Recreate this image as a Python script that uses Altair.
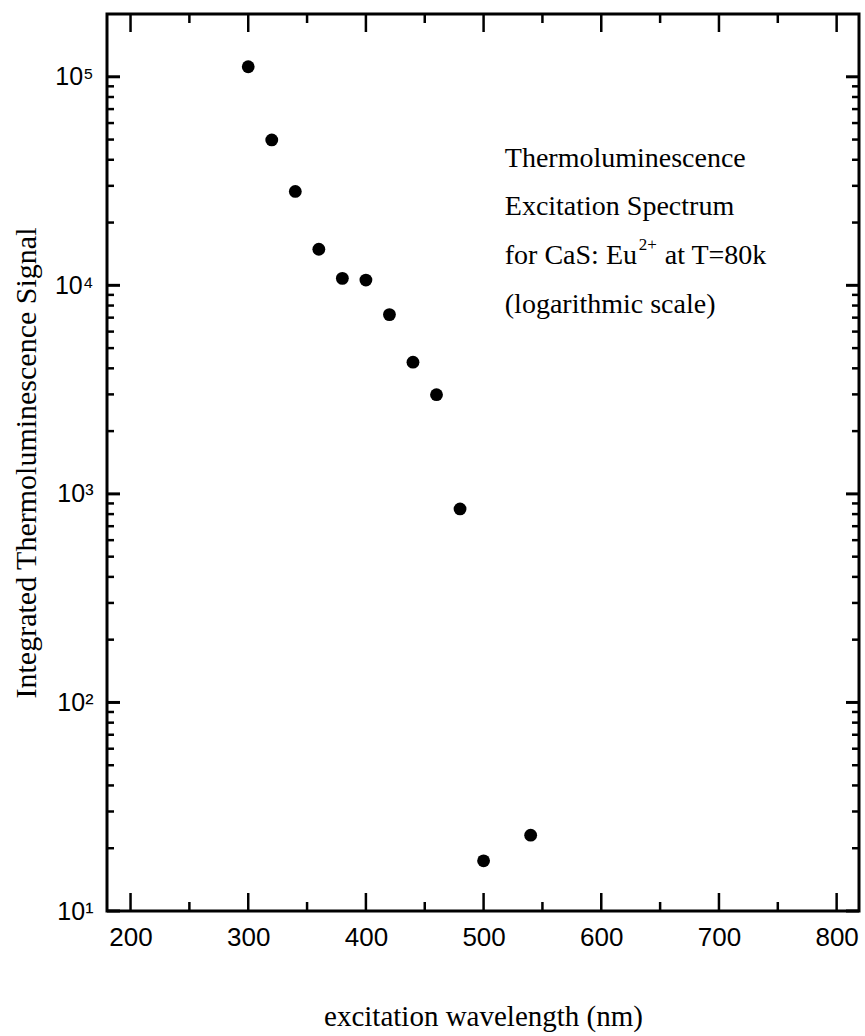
import altair as alt
import pandas as pd

# ---- data ----
wavelength = [300, 320, 340, 360, 380, 400, 420, 440, 460, 480, 500, 540]
signal = [111700, 49800, 28200, 14900, 10800, 10600, 7240, 4280, 2990, 847, 17.4, 23.1]

x_major = [200, 300, 400, 500, 600, 700, 800]
x_minor = [250, 350, 450, 550, 650, 750]
y_major = [10, 100, 1000, 10000, 100000]
y_minor = [20, 30, 40, 50, 60, 70, 80, 90,
           200, 300, 400, 500, 600, 700, 800, 900,
           2000, 3000, 4000, 5000, 6000, 7000, 8000, 9000,
           20000, 30000, 40000, 50000, 60000, 70000, 80000, 90000]

note_lines = ["Thermoluminescence", "Excitation Spectrum", "for CaS: Eu", "(logarithmic scale)"]
note_sig = [37060, 21740, 12660, 7330]
note_wl = [518, 518, 518, 518]
note_sup = "2+"
note_tail = "at T=80k"

W, H = 752, 897
X_DOM = [180, 819]
Y_DOM = [10, 200000]

SANS = "Liberation Sans Narrow, Liberation Sans, Arial, sans-serif"
SERIF = "Liberation Serif"

df = pd.DataFrame({"wl": wavelength, "sig": signal})

x_axis = alt.Axis(values=x_major, ticks=False, tickSize=0, domain=False, grid=False,
                  labelFont=SANS, labelFontSize=26, labelPadding=13,
                  labelColor="black", title="excitation wavelength (nm)",
                  titleFont=SERIF, titleFontSize=29, titleFontWeight="normal",
                  titleColor="black", titleX=W / 2, titleY=114, titleAlign="center",
                  titleBaseline="alphabetic", labelFlush=False)
y_axis = alt.Axis(values=y_major, ticks=False, tickSize=0, domain=False, grid=False,
                  labelFont=SANS, labelFontSize=25, labelPadding=14,
                  labelColor="black",
                  labelExpr="datum.value == 10 ? '10¹' : datum.value == 100 ? '10²' : datum.value == 1000 ? '10³' : datum.value == 10000 ? '10⁴' : '10⁵'",
                  title="Integrated Thermoluminescence Signal",
                  titleFont=SERIF, titleFontSize=30, titleFontWeight="normal",
                  titleColor="black", titleAngle=270, titleX=-72, titleY=H / 2,
                  titleAlign="center", titleBaseline="alphabetic", labelFlush=False)

xs = alt.Scale(domain=X_DOM, nice=False, zero=False)
ys = alt.Scale(type="log", domain=Y_DOM, nice=False)

X = alt.X("wl:Q", scale=xs, axis=x_axis)
Y = alt.Y("sig:Q", scale=ys, axis=y_axis)

points = alt.Chart(df).mark_circle(size=165, color="black", opacity=1).encode(x=X, y=Y)

def xticks(vals, length):
    d = pd.DataFrame({"wl": vals})
    bottom = alt.Chart(d).mark_rule(color="black", strokeWidth=2.5).encode(
        x=X, y=alt.value(H), y2=alt.value(H - length))
    top = alt.Chart(d).mark_rule(color="black", strokeWidth=2.5).encode(
        x=X, y=alt.value(0), y2=alt.value(length))
    return [bottom, top]

def yticks(vals, length, sw):
    d = pd.DataFrame({"sig": vals})
    left = alt.Chart(d).mark_rule(color="black", strokeWidth=sw).encode(
        y=Y, x=alt.value(0), x2=alt.value(length))
    right = alt.Chart(d).mark_rule(color="black", strokeWidth=sw).encode(
        y=Y, x=alt.value(W), x2=alt.value(W - length))
    return [left, right]

ndf = pd.DataFrame({"wl": note_wl, "sig": note_sig, "txt": note_lines})
notes = alt.Chart(ndf).mark_text(align="left", baseline="alphabetic", font=SERIF,
                                 fontSize=28, color="black").encode(x=X, y=Y, text="txt:N")
sdf = pd.DataFrame({"wl": [note_wl[2]], "sig": [note_sig[2]], "txt": [note_sup]})
sup = alt.Chart(sdf).mark_text(align="left", baseline="alphabetic", font=SERIF,
                               fontSize=17, color="black", dx=134, dy=-14).encode(x=X, y=Y, text="txt:N")
tdf = pd.DataFrame({"wl": [note_wl[2]], "sig": [note_sig[2]], "txt": [note_tail]})
tail = alt.Chart(tdf).mark_text(align="left", baseline="alphabetic", font=SERIF,
                                fontSize=28, color="black", dx=160).encode(x=X, y=Y, text="txt:N")

layers = [points] + xticks(x_major, 18) + xticks(x_minor, 9) + \
         yticks(y_major, 13, 3) + yticks(y_minor, 7, 2.5) + [notes, sup, tail]

chart = alt.layer(*layers).properties(
    width=W, height=H,
    padding={"left": 107, "top": 14, "right": 6, "bottom": 125},
    autosize=alt.AutoSizeParams(type="none"),
).configure(
    background="white",
    view=alt.ViewConfig(stroke="black", strokeWidth=3),
)

chart.save("out.html", embed_options={"renderer": "svg", "actions": False})
